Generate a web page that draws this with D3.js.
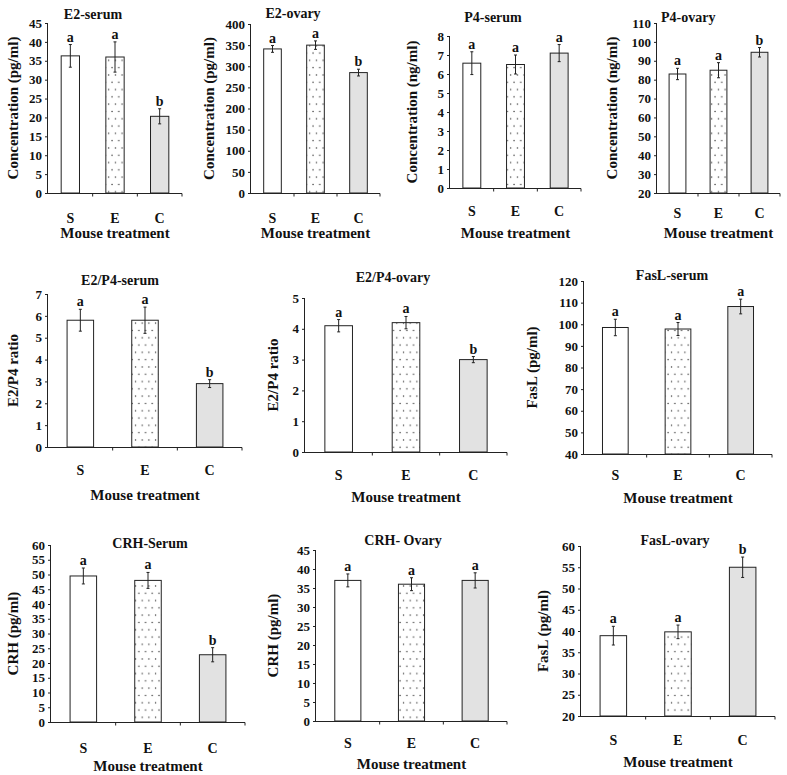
<!DOCTYPE html>
<html><head><meta charset="utf-8">
<script src="https://cdn.jsdelivr.net/npm/d3@7"></script>
<style>
html,body{margin:0;padding:0;background:#fff;}
svg{display:block;}
text{font-family:"Liberation Serif","Times New Roman",serif;fill:#111;}
</style></head>
<body>
<svg id="chart" width="787" height="775"></svg>
<script>
// ---- data ----
const categories = ["S", "E", "C"];
const titles = ["E2-serum", "E2-ovary", "P4-serum", "P4-ovary", "E2/P4-serum", "E2/P4-ovary", "FasL-serum", "CRH-Serum", "CRH- Ovary", "FasL-ovary"];
const yLabels = ["Concentration (pg/ml)", "Concentration (pg/ml)", "Concentration (ng/ml)", "Concentration (ng/ml)", "E2/P4 ratio", "E2/P4 ratio", "FasL (pg/ml)", "CRH (pg/ml)", "CRH (pg/ml)", "FasL (pg/ml)"];
const xLabel = "Mouse treatment";
const means = [
  [36.3, 36.0, 20.3],
  [341, 350, 285],
  [6.57, 6.5, 7.1],
  [83, 85, 94.5],
  [5.8, 5.8, 2.9],
  [4.1, 4.2, 3.0],
  [98.5, 97.8, 108.2],
  [49.5, 48.0, 22.8],
  [37.0, 36.0, 37.0],
  [38.9, 39.8, 55.0]
];
const errors = [
  [3.0, 4.0, 2.0],
  [8, 10, 8],
  [0.6, 0.5, 0.45],
  [3, 4, 2.5],
  [0.5, 0.6, 0.18],
  [0.2, 0.2, 0.1],
  [3.8, 3.0, 3.4],
  [2.7, 2.7, 2.4],
  [1.7, 1.7, 2.0],
  [2.2, 1.6, 2.4]
];
const letters = [
  ["a","a","b"],["a","a","b"],["a","a","a"],["a","a","b"],["a","a","b"],
  ["a","a","b"],["a","a","a"],["a","a","b"],["a","a","a"],["a","a","b"]
];
const yDomains = [[0,45],[0,400],[0,8],[20,110],[0,7],[0,5],[40,120],[0,60],[0,45],[20,60]];
const yTickSteps = [5, 50, 1, 10, 1, 1, 10, 5, 5, 5];

// ---- layout (pixels) ----
const layout = [
  {L:48, R:182, T:23, B:193, tx:93, ty:14, ta:"middle", yl:13, cy:218, xy:233},
  {L:251, R:380, T:24, B:193, tx:293, ty:13, ta:"middle", yl:209, cy:218, xy:233},
  {L:450, R:581, T:36, B:188, tx:493, ty:17, ta:"middle", yl:412, cy:211, xy:233},
  {L:657, R:780, T:23, B:193, tx:661, ty:17, ta:"start", yl:612, cy:213, xy:233},
  {L:48, R:242, T:294, B:447, tx:120, ty:280, ta:"middle", yl:13, cy:470, xy:495},
  {L:305, R:507, T:298, B:452, tx:393, ty:277, ta:"middle", yl:273, cy:475, xy:497},
  {L:584, R:772, T:281, B:454, tx:672, ty:275, ta:"middle", yl:532, cy:475, xy:498},
  {L:51, R:245, T:545, B:722, tx:150, ty:543, ta:"middle", yl:13, cy:748, xy:766},
  {L:316, R:507, T:550, B:721, tx:403, ty:540, ta:"middle", yl:273, cy:743, xy:764},
  {L:581, R:775, T:546, B:716, tx:675, ty:540, ta:"middle", yl:543, cy:740, xy:762}
];
const fills = ["#ffffff", "url(#dots)", "#e2e2e2"];

const svg = d3.select("#chart");
const defs = svg.append("defs");
const pat = defs.append("pattern").attr("id","dots").attr("patternUnits","userSpaceOnUse")
  .attr("width",6.7).attr("height",14.6);
pat.append("rect").attr("width",6.7).attr("height",14.6).attr("fill","#fff");
pat.append("circle").attr("cx",1.5).attr("cy",2).attr("r",0.7).attr("fill","#333");
pat.append("circle").attr("cx",4.85).attr("cy",9.3).attr("r",0.7).attr("fill","#333");

titles.forEach((title, i) => {
  const lo = layout[i];
  const g = svg.append("g");
  const x = d3.scaleBand().domain(categories).range([lo.L, lo.R]).paddingInner(0).paddingOuter(0);
  const y = d3.scaleLinear().domain(yDomains[i]).range([lo.B, lo.T]);
  const ticks = d3.range(yDomains[i][0], yDomains[i][1] + yTickSteps[i]/2, yTickSteps[i]);

  // y axis
  const ya = g.append("g").attr("transform", `translate(${lo.L},0)`)
    .call(d3.axisLeft(y).tickValues(ticks).tickSize(3).tickPadding(3).tickFormat(d3.format("d")));
  ya.attr("font-family", null);
  ya.select(".domain").attr("stroke","#222").attr("d", `M-0.5,${lo.B}V${lo.T}`);
  ya.selectAll(".tick line").attr("stroke","#222");
  ya.selectAll(".tick text").attr("font-size", 13).attr("font-weight","bold").attr("fill","#111");

  // x axis
  const xa = g.append("g").attr("transform", `translate(0,${lo.B})`);
  xa.append("line").attr("x1", lo.L).attr("x2", lo.R).attr("y1", 0.5).attr("y2", 0.5).attr("stroke","#222");
  const bounds = categories.slice(1).map(c => x(c));
  bounds.push(lo.R);
  xa.selectAll(".bt").data(bounds).join("line").attr("class","bt")
    .attr("x1", d => d).attr("x2", d => d).attr("y1", 0.5).attr("y2", 3.5).attr("stroke","#222");

  // bars
  const bw = x.bandwidth() * 0.41;
  g.selectAll(".bar").data(categories).join("rect").attr("class","bar")
    .attr("x", c => x(c) + (x.bandwidth() - bw)/2)
    .attr("width", bw)
    .attr("y", (c, j) => y(means[i][j]))
    .attr("height", (c, j) => y(yDomains[i][0]) - y(means[i][j]))
    .attr("fill", (c, j) => fills[j])
    .attr("stroke", "#222").attr("stroke-width", 1);

  // error bars
  categories.forEach((c, j) => {
    const cx = x(c) + x.bandwidth()/2;
    const hi = y(means[i][j] + errors[i][j]);
    const lw = y(means[i][j] - errors[i][j]);
    g.append("line").attr("x1", cx).attr("x2", cx).attr("y1", hi).attr("y2", lw).attr("stroke","#222");
    [hi, lw].forEach(yy => g.append("line").attr("x1", cx-1.5).attr("x2", cx+1.5).attr("y1", yy).attr("y2", yy).attr("stroke","#222"));
    g.append("text").attr("x", cx).attr("y", hi - 3).attr("text-anchor","middle")
      .attr("font-size", 14).attr("font-weight","bold").text(letters[i][j]);
  });

  // category labels
  g.selectAll(".cat").data(categories).join("text").attr("class","cat")
    .attr("x", c => x(c) + x.bandwidth()/2).attr("y", lo.cy + 5)
    .attr("text-anchor","middle").attr("font-size", 14).attr("font-weight","bold").text(c => c);

  // x label
  g.append("text").attr("x", (lo.L + lo.R)/2).attr("y", lo.xy + 5).attr("text-anchor","middle")
    .attr("font-size", 15).attr("font-weight","bold").text(xLabel);

  // title
  g.append("text").attr("x", lo.tx).attr("y", lo.ty + 4.5).attr("text-anchor", lo.ta)
    .attr("font-size", 14).attr("font-weight","bold").text(title);

  // y label
  g.append("text").attr("transform", `translate(${lo.yl + 5},${(lo.T + lo.B)/2}) rotate(-90)`)
    .attr("text-anchor","middle").attr("font-size", 15).attr("font-weight","bold").text(yLabels[i]);
});
</script>
</body></html>
